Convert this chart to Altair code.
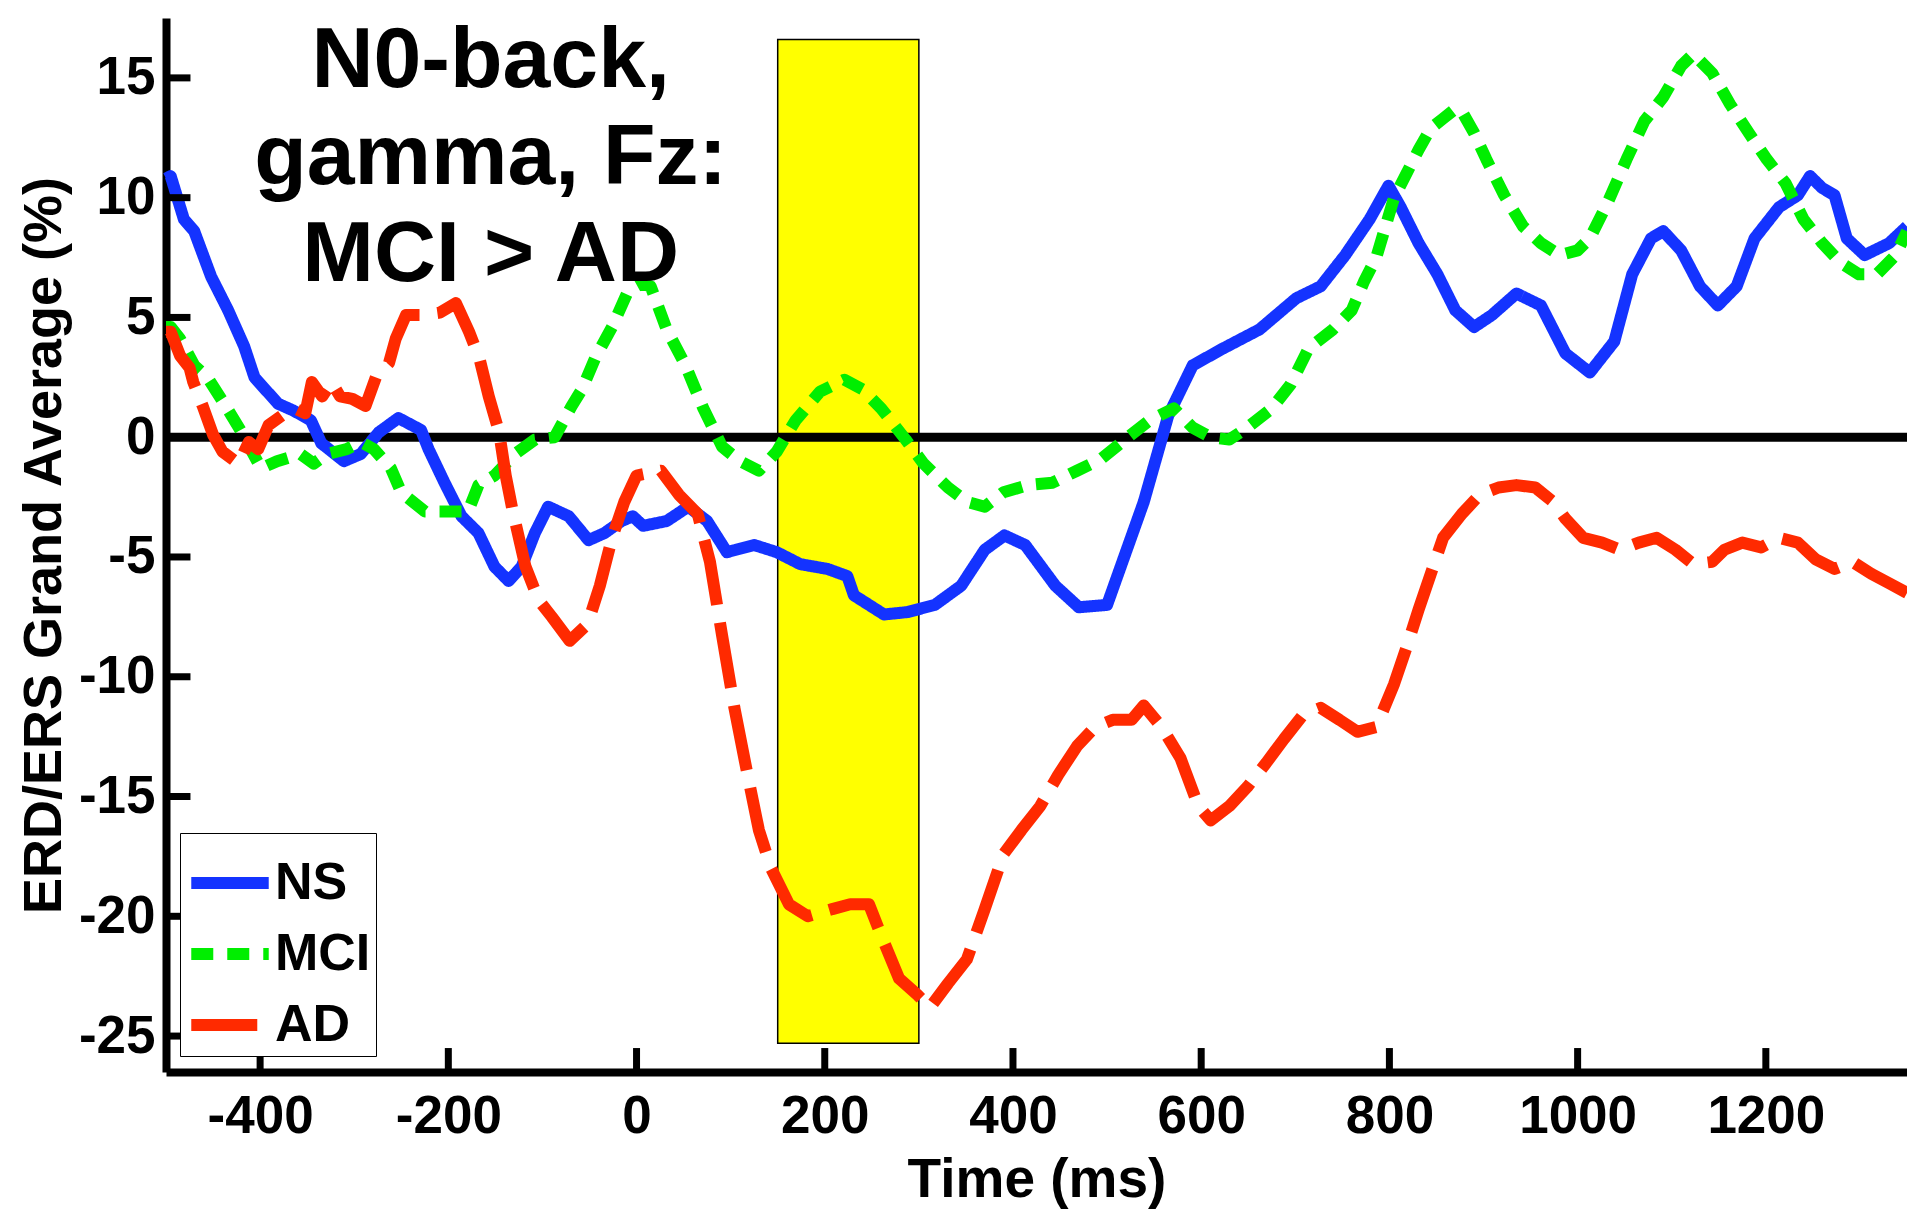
import altair as alt
import pandas as pd

# ---------------- data ----------------
ns = [(-500, 10.8), (-495, 10.9), (-481, 9.1), (-470, 8.6), (-452, 6.7), (-434, 5.3), (-417, 3.8),
      (-406, 2.5), (-381, 1.4), (-364, 1.1), (-346, 0.7), (-335, -0.25), (-311, -1.0), (-293, -0.7),
      (-274, 0.2), (-253, 0.8), (-229, 0.3), (-221, -0.5), (-204, -1.9), (-186, -3.3), (-168, -4.0),
      (-151, -5.4), (-136, -6.0), (-122, -5.4), (-108, -4.0), (-94, -2.9), (-72, -3.3), (-51, -4.3),
      (-34, -4.0), (-16, -3.5), (-4, -3.3), (7, -3.7), (32, -3.5), (55, -2.9), (75, -3.5), (96, -4.8),
      (125, -4.5), (149, -4.8), (174, -5.3), (203, -5.5), (224, -5.8), (231, -6.6), (263, -7.4),
      (288, -7.3), (317, -7.0), (345, -6.2), (370, -4.7), (391, -4.1), (413, -4.5), (445, -6.2),
      (470, -7.1), (500, -7.0), (539, -2.7), (565, 0.9), (591, 3.0), (623, 3.7), (662, 4.5),
      (701, 5.8), (727, 6.3), (753, 7.6), (779, 9.1), (799, 10.5), (812, 9.6), (831, 8.1), (851, 6.8),
      (870, 5.3), (890, 4.6), (909, 5.1), (935, 6.0), (961, 5.5), (987, 3.5), (1013, 2.7), (1039, 4.0),
      (1058, 6.8), (1078, 8.3), (1091, 8.6), (1110, 7.8), (1130, 6.3), (1149, 5.5), (1169, 6.3),
      (1188, 8.3), (1214, 9.6), (1234, 10.1), (1247, 10.9), (1260, 10.4), (1273, 10.1), (1286, 8.3),
      (1305, 7.6), (1331, 8.1), (1350, 8.8)]

mci = [(-500, 4.6), (-495, 4.6), (-485, 4.1), (-470, 3.0), (-456, 2.5), (-435, 1.2), (-421, 0.3),
       (-399, -1.3), (-382, -1.0), (-357, -0.7), (-343, -1.1), (-329, -0.7), (-308, -0.5), (-293, -0.2),
       (-279, -0.5), (-261, -1.3), (-250, -2.3), (-225, -3.1), (-200, -3.1), (-179, -3.1), (-168, -2.0),
       (-151, -1.6), (-129, -0.7), (-108, -0.1), (-87, 0.0), (-69, 1.3), (-58, 2.0), (-44, 3.3),
       (-26, 4.6), (-9, 6.1), (5, 6.4), (15, 6.3), (32, 4.5), (52, 3.0), (71, 1.2), (91, -0.4),
       (110, -1.0), (130, -1.4), (149, -0.6), (169, 0.7), (195, 1.9), (221, 2.4), (240, 2.0), (260, 1.2),
       (286, -0.1), (305, -1.1), (331, -2.1), (351, -2.7), (370, -2.9), (390, -2.3), (416, -2.0),
       (442, -1.9), (468, -1.4), (494, -0.9), (519, -0.1), (545, 0.7), (571, 1.2), (591, 0.4), (610, 0.0),
       (630, -0.1), (649, 0.4), (675, 1.2), (695, 2.2), (714, 3.7), (740, 4.5), (760, 5.3), (773, 6.5),
       (786, 7.5), (805, 10.0), (818, 11.0), (831, 12.0), (844, 12.9), (857, 13.3), (870, 13.7),
       (877, 13.6), (890, 12.7), (903, 11.6), (922, 10.1), (942, 8.8), (961, 8.1), (981, 7.6), (1000, 7.8),
       (1013, 8.3), (1032, 9.8), (1052, 11.6), (1071, 13.2), (1091, 14.2), (1110, 15.5), (1123, 16.0),
       (1143, 15.2), (1162, 13.9), (1182, 12.7), (1201, 11.6), (1221, 10.6), (1240, 9.1), (1260, 8.1),
       (1279, 7.3), (1299, 6.8), (1318, 6.8), (1338, 7.6), (1350, 8.6)]

ad = [(-500, 4.4), (-495, 4.4), (-485, 3.4), (-475, 2.9), (-471, 2.3), (-461, 1.3), (-450, 0.1),
      (-440, -0.6), (-423, -1.1), (-412, -0.2), (-402, -0.5), (-391, 0.5), (-377, 0.9), (-363, 1.2),
      (-352, 1.0), (-345, 2.3), (-334, 1.7), (-324, 2.3), (-315, 1.7), (-302, 1.6), (-288, 1.3),
      (-277, 2.5), (-263, 3.1), (-256, 4.1), (-245, 5.1), (-227, 5.1), (-209, 5.2), (-192, 5.6),
      (-178, 4.4), (-167, 3.3), (-157, 1.7), (-146, 0.2), (-139, -1.6), (-132, -3.0), (-118, -5.4),
      (-104, -6.8), (-90, -7.5), (-71, -8.5), (-52, -7.8), (-39, -6.2), (-26, -4.2), (-13, -2.7),
      (0, -1.6), (26, -1.4), (45, -2.4), (65, -3.2), (78, -5.2), (91, -8.3), (104, -11.3), (117, -13.9),
      (130, -16.4), (143, -18.0), (162, -19.5), (182, -20.0), (208, -19.7), (227, -19.5), (247, -19.5),
      (260, -20.8), (279, -22.6), (299, -23.3), (312, -23.8), (331, -22.8), (351, -21.8), (370, -19.7),
      (390, -17.4), (409, -16.4), (429, -15.4), (448, -14.1), (468, -12.9), (487, -12.1), (506, -11.8),
      (526, -11.8), (539, -11.2), (558, -12.1), (578, -13.4), (597, -15.4), (610, -16.0), (630, -15.4),
      (649, -14.6), (669, -13.6), (688, -12.6), (708, -11.6), (727, -11.3), (747, -11.8), (766, -12.3),
      (786, -12.1), (805, -10.3), (818, -8.8), (831, -7.2), (844, -5.7), (857, -4.2), (877, -3.2),
      (896, -2.4), (916, -2.1), (935, -2.0), (955, -2.1), (974, -2.7), (987, -3.4), (1006, -4.2),
      (1026, -4.4), (1045, -4.7), (1065, -4.4), (1084, -4.2), (1104, -4.7), (1123, -5.3), (1143, -5.2),
      (1156, -4.7), (1175, -4.4), (1195, -4.6), (1214, -4.2), (1234, -4.4), (1253, -5.1), (1273, -5.5),
      (1292, -5.2), (1312, -5.7), (1331, -6.1), (1350, -6.5)]

series_names = ["NS", "MCI", "AD"]
series_colors = ["#1433ff", "#00ee00", "#ff2a00"]
series_dashes = [[1, 0], [22, 14], [66, 18]]

x_ticks = [-400, -200, 0, 200, 400, 600, 800, 1000, 1200]
y_ticks = [-25, -20, -15, -10, -5, 0, 5, 10, 15]
x_domain = [-500, 1350]
y_domain = [-26.5, 17.5]

highlight_start, highlight_end = 150, 300
highlight_low, highlight_high = -25.3, 16.6

annotation_lines = ["N0-back,", "gamma, Fz:", "MCI > AD"]
annotation_line_y = [15.7, 11.66, 7.62]
annotation_x = -155

FONT = "Liberation Sans"

# ---------------- tables ----------------
rows = []
for name, pts in zip(series_names, [ns, mci, ad]):
    for t, v in pts:
        rows.append({"time": t, "value": v, "group": name})
lines_df = pd.DataFrame(rows)

xs = alt.Scale(domain=x_domain, nice=False, zero=False)
ys = alt.Scale(domain=y_domain, nice=False, zero=False)

rect_df = pd.DataFrame([{"x": highlight_start, "x2": highlight_end,
                         "y": highlight_low, "y2": highlight_high}])
highlight = alt.Chart(rect_df).mark_rect(fill="#ffff00", stroke="black", strokeWidth=1.5).encode(
    x=alt.X("x:Q", scale=xs,
            axis=alt.Axis(values=x_ticks, title="Time (ms)", labelPadding=18, titlePadding=10,
                          labelExpr="'' + datum.value")),
    x2="x2:Q",
    y=alt.Y("y:Q", scale=ys,
            axis=alt.Axis(values=y_ticks, title="ERD/ERS Grand Average (%)", labelPadding=11,
                          titlePadding=7, titleFontSize=54, labelExpr="'' + datum.value")),
    y2="y2:Q",
)

zero_df = pd.DataFrame([{"y": 0}])
zero_line = alt.Chart(zero_df).mark_rule(color="black", strokeWidth=9).encode(
    y=alt.Y("y:Q", scale=ys)
)

lines = alt.Chart(lines_df).mark_line(strokeWidth=12, strokeCap="butt", strokeJoin="round").encode(
    x=alt.X("time:Q", scale=xs),
    y=alt.Y("value:Q", scale=ys),
    color=alt.Color("group:N", scale=alt.Scale(domain=series_names, range=series_colors), title=None),
    strokeDash=alt.StrokeDash("group:N", scale=alt.Scale(domain=series_names, range=series_dashes),
                              title=None),
)

xtick_df = pd.DataFrame([{"x": t, "y": y_domain[0], "y2": y_domain[0] + 1.0} for t in x_ticks])
xtick_marks = alt.Chart(xtick_df).mark_rule(color="black", strokeWidth=7).encode(
    x=alt.X("x:Q", scale=xs), y=alt.Y("y:Q", scale=ys), y2="y2:Q"
)
ytick_df = pd.DataFrame([{"y": v, "x": x_domain[0], "x2": x_domain[0] + 26} for v in y_ticks])
ytick_marks = alt.Chart(ytick_df).mark_rule(color="black", strokeWidth=7).encode(
    y=alt.Y("y:Q", scale=ys), x=alt.X("x:Q", scale=xs), x2="x2:Q"
)

text_df = pd.DataFrame({"x": [annotation_x] * len(annotation_lines),
                        "y": annotation_line_y, "t": annotation_lines})
annotation = alt.Chart(text_df).mark_text(
    fontSize=86, fontWeight="bold", font=FONT,
    align="center", baseline="middle", color="black"
).encode(x=alt.X("x:Q", scale=xs), y=alt.Y("y:Q", scale=ys), text="t:N")

chart = alt.layer(highlight, zero_line, lines, xtick_marks, ytick_marks, annotation).properties(
    width=1741, height=1054,
    autosize=alt.AutoSizeParams(type="none"),
    padding={"left": 158, "top": 10, "right": 0, "bottom": 140},
).configure_view(stroke=None).configure_axis(
    domainColor="black", domainWidth=8, ticks=False, grid=False,
    labelFont=FONT, labelFontSize=53, labelFontWeight="bold", labelColor="black",
    titleFont=FONT, titleFontSize=55, titleFontWeight="bold", titleColor="black",
    zindex=1,
).configure_legend(
    orient="none", legendX=14, legendY=815,
    symbolType="stroke", symbolSize=6000, symbolStrokeWidth=12,
    labelFont=FONT, labelFontSize=52, labelFontWeight="bold", labelColor="black",
    labelOffset=0, padding=5, rowPadding=0,
    strokeColor="black", fillColor="white", cornerRadius=0,
)

chart.save("out.html", embed_options={"renderer": "svg", "actions": False})
